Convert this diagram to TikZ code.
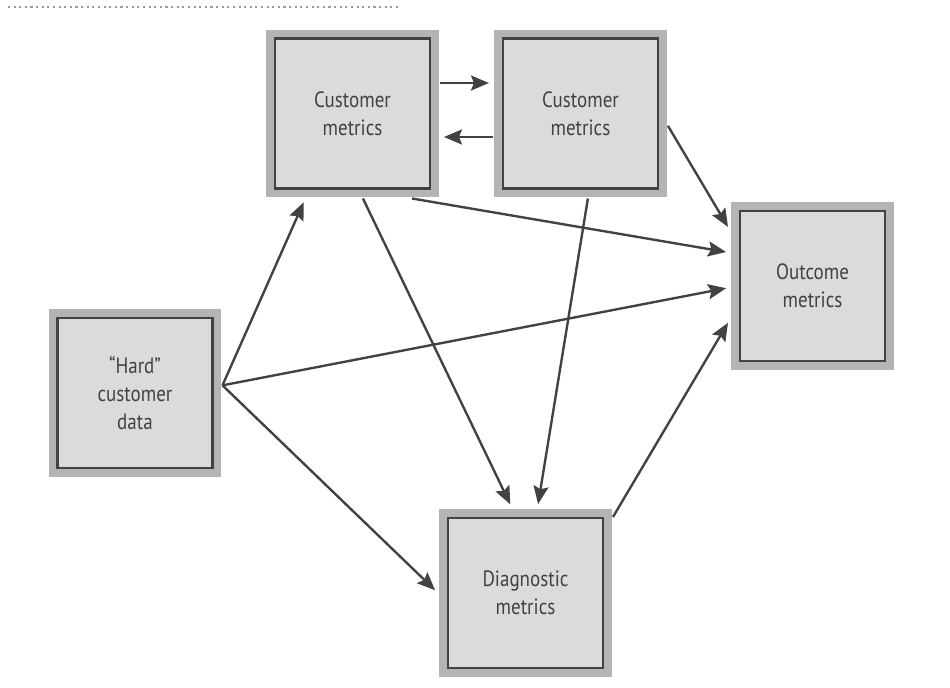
\documentclass[tikz,border=0pt]{standalone}
\usepackage{fontspec}
\setmainfont[FakeStretch=0.86]{PT Sans}
\usepackage{xcolor}
\usepackage{tikz}
\usetikzlibrary{arrows.meta,positioning}
\definecolor{inkgray}{HTML}{424242}
\definecolor{boxfill}{HTML}{DBDBDB}
\definecolor{boxframe}{HTML}{B4B4B4}
\definecolor{rulegray}{HTML}{9A9A9A}
\tikzset{
  metricbox/.style={
    draw=inkgray,
    fill=boxfill,
    line width=1.3pt,
    preaction={draw=boxframe, line width=0.36cm},
    align=center,
    text=inkgray,
    minimum width=3.1cm,
    minimum height=3.0cm,
    inner sep=0pt,
    outer sep=0.2cm,
    font=\fontsize{12.6}{16}\selectfont
  },
  linkarrow/.style={
    -{Stealth[length=3.6mm,width=3mm,inset=0.6mm]},
    line width=1.35pt,
    draw=inkgray,
    shorten >=0.08cm
  }
}

\begin{document}
\begin{tikzpicture}[x=0.02cm, y=-0.02cm]
    \fill[white] (0,0) rectangle (950,687);
    \useasboundingbox (0,0) rectangle (950,687);
    \draw[rulegray, dotted, line width=1.2pt] (8,7) -- (400,7);

    \node[metricbox] (custA) at (352.5,113.5) {Customer\\metrics};
    \node[metricbox, right=1.06cm of custA] (custB) {Customer\\metrics};
    \node[metricbox] (hard) at (135,393) {``Hard''\\customer\\data};
    \node[metricbox] (diag) at (525.5,593) {Diagnostic\\metrics};
    \node[metricbox, minimum width=2.9cm] (outc) at (812.5,286) {Outcome\\metrics};

    \draw[linkarrow] ([yshift=0.61cm]custA.east) -- ([yshift=0.61cm]custA.east -| custB.west);
    \draw[linkarrow] ([yshift=-0.47cm]custB.west) -- ([yshift=-0.47cm]custB.west -| custA.east);
    \draw[linkarrow] (custA.-55) -- (outc.158);
    \draw[linkarrow] (custA.-83) -- (diag.99);
    \draw[linkarrow] (custB.-8) -- (outc.146);
    \draw[linkarrow] (custB.-85) -- (diag.82);
    \draw[linkarrow] (hard.5) -- (custA.241);
    \draw[linkarrow] (hard.5) -- (outc.181);
    \draw[linkarrow] (hard.5) -- (diag.180);
    \draw[linkarrow] (diag.41) -- (outc.202);
\end{tikzpicture}
\end{document}
